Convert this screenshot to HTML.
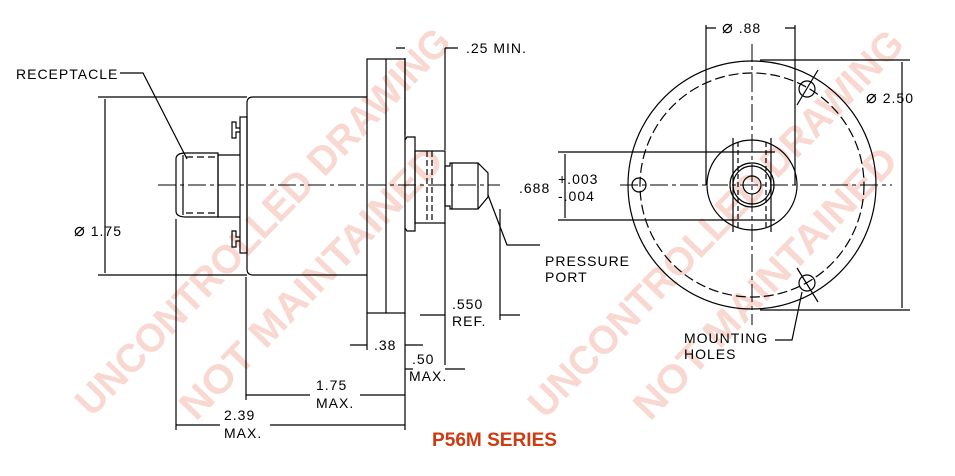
<!DOCTYPE html>
<html><head><style>
html,body{margin:0;padding:0;background:#fff;}
svg{display:block;}
text{font-family:"Liberation Sans",sans-serif;}
.t{font-size:14px;fill:#000;letter-spacing:1px;}
.wm{font-size:40px;font-weight:bold;fill:#f8d8d0;}
</style></head><body>
<svg width="955" height="476" viewBox="0 0 955 476" xmlns="http://www.w3.org/2000/svg">
<g>
<text class="wm" transform="translate(92,418) rotate(-46)" textLength="520" lengthAdjust="spacingAndGlyphs">UNCONTROLLED DRAWING</text>
<text class="wm" transform="translate(196,422) rotate(-46)" textLength="360" lengthAdjust="spacingAndGlyphs">NOT MAINTAINED</text>
<text class="wm" transform="translate(545,420) rotate(-46)" textLength="520" lengthAdjust="spacingAndGlyphs">UNCONTROLLED DRAWING</text>
<text class="wm" transform="translate(650,422) rotate(-46)" textLength="360" lengthAdjust="spacingAndGlyphs">NOT MAINTAINED</text>
</g>
<g stroke="#000" stroke-width="1.2" fill="none">
<path d="M253,97 H367 M253,275 H367 M253,97 Q247,97 247,103 V269 Q247,275 253,275"/>
<rect x="367" y="59" width="38" height="254"/>
<line x1="386" y1="59" x2="386" y2="313"/>
<path d="M405,140 L407,137 H415 V231 H407 L405,228"/>
<rect x="415" y="151" width="30" height="72"/>
<path d="M427,151 V223 M432,151 V223" stroke-dasharray="6,3"/>
<path d="M445,166 H450 V163 H478 L488,173 V197 L478,209 H450 V206 H445 Z"/>
<path d="M452,163 V209 M478,163 V209"/>
<rect x="240" y="117" width="7" height="136"/>
<path d="M240,128 h-4 v-6 h-4 v16 h4 v-6 h4 M240,237 h-4 v-6 h-4 v16 h4 v-6 h4"/>
<path d="M240,155 H218 V217 H240"/>
<path d="M186,153 H218 V217 H186 Q176,217 176,211 V159 Q176,153 186,153 Z"/>
<path d="M183,155 V215"/>
<path d="M186,157 H216 M186,213 H216" stroke-dasharray="7,4"/>
<path d="M158,185 H500" stroke-dasharray="18,4,4,4" stroke-width="1"/>
<path d="M98,97 H247 M98,275 H247 M105,99 V273"/>
<path d="M120,73 H143 L187,159"/>
<path d="M176,219 V430 M246,277 V400 M367,313 V350 M405,313 V430 M445,223 V365 M500,209 V320"/>
<path d="M405,58 V135 M445,48 V150 M396,48 H405 M445,48 H458"/>
<path d="M176,425 H220 M270,425 H405 M246,395 H310 M360,395 H405 M350,345 H367 M405,345 H423 M405,369 H413 M445,369 H465 M420,315 H445 M500,315 H520"/>
<path d="M488,195 L507,245 H540"/>
<circle cx="752" cy="185" r="124"/>
<circle cx="752" cy="185" r="112" stroke-dasharray="10,4"/>
<circle cx="752" cy="185" r="45"/>
<circle cx="752" cy="185" r="22"/>
<circle cx="752" cy="185" r="19"/>
<circle cx="752" cy="185" r="9"/>
<path d="M733,138 V232 M771,138 V232"/>
<path d="M738,142 V228 M766,142 V228" stroke-dasharray="5,3"/>
<circle cx="639" cy="185" r="7"/>
<circle cx="807" cy="89" r="8"/>
<circle cx="807" cy="283" r="8"/>
<path d="M818,70 L797,105 M818,302 L797,268"/>
<path d="M620,185 H892 M752,44 V325" stroke-dasharray="18,4,4,4" stroke-width="1"/>
<path d="M558,152 H775 M558,220 H775 M565,154 V218"/>
<path d="M706,25 V185 M795,25 V185 M706,28 H716 M785,28 H795"/>
<path d="M760,60 H910 M760,310 H910 M902,62 V308"/>
<path d="M802,292 L792,340 H775"/>
</g>
<g fill="#000">
<text class="t" x="16" y="79">RECEPTACLE</text>
<text class="t" x="74" y="236"><tspan font-size="18">⌀</tspan> 1.75</text>
<text class="t" x="466" y="53">.25 MIN.</text>
<text class="t" x="545" y="266">PRESSURE</text>
<text class="t" x="545" y="282">PORT</text>
<text class="t" x="452" y="309">.550</text>
<text class="t" x="452" y="326">REF.</text>
<text class="t" x="374" y="350">.38</text>
<text class="t" x="412" y="364">.50</text>
<text class="t" x="409" y="381">MAX.</text>
<text class="t" x="316" y="390">1.75</text>
<text class="t" x="316" y="408">MAX.</text>
<text class="t" x="224" y="420">2.39</text>
<text class="t" x="224" y="438">MAX.</text>
<text class="t" x="722" y="33"><tspan font-size="18">⌀</tspan> .88</text>
<text class="t" x="866" y="103"><tspan font-size="18">⌀</tspan> 2.50</text>
<text class="t" x="519" y="193">.688</text>
<text class="t" x="558" y="184">+.003</text>
<text class="t" x="558" y="201">-.004</text>
<text class="t" x="684" y="343">MOUNTING</text>
<text class="t" x="684" y="359">HOLES</text>
</g>
<text x="432" y="446" font-size="19" font-weight="bold" fill="#d03a10" textLength="125" lengthAdjust="spacingAndGlyphs">P56M SERIES</text>
</svg>
</body></html>
